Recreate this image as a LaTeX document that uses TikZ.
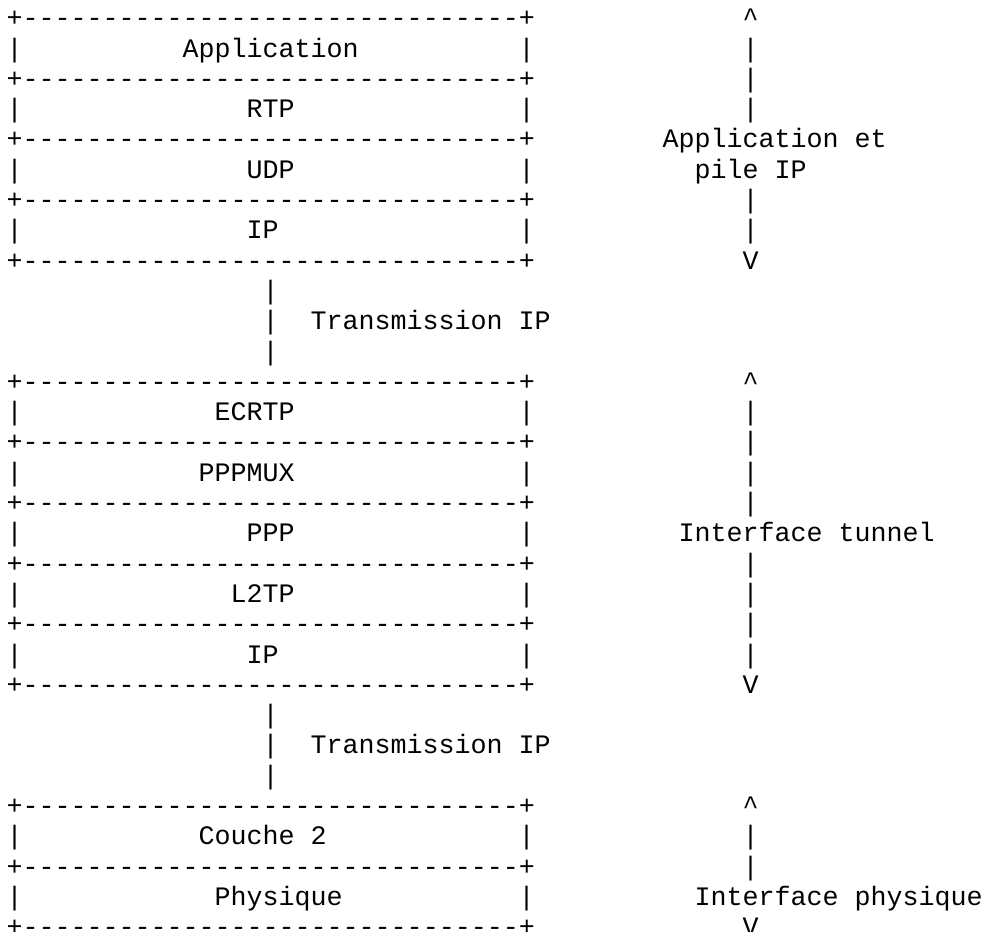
\documentclass[tikz,border=0pt]{standalone}
\usepackage{fontspec}
\setmonofont{Liberation Mono}
\newcommand{\asc}[4]{\node[txt] (#1) at ({6.7+16*#2},{26.7+30.3*#3}) {#4};}
\newcommand{\brd}{+-------------------------------+}
\begin{document}
\begin{tikzpicture}[x=1pt,y=-1pt,
  txt/.style={anchor=base west, inner sep=0pt, outer sep=0pt,
    font=\ttfamily\fontsize{26.67pt}{30.3pt}\selectfont, text=black}]
\useasboundingbox (0,0) rectangle (983,932);
% borders of the stacked layers
\foreach \i in {0,2,4,6,8,12,14,16,18,20,22,26,28,30} {\asc{b\i}{0}{\i}{\brd}}
% side bars of the layers
\foreach \i in {1,3,5,7,13,15,17,19,21,27,29} {\asc{l\i}{0}{\i}{|}\asc{r\i}{32}{\i}{|}}
% layer labels
\asc{app}{11}{1}{Application}
\asc{rtp}{15}{3}{RTP}
\asc{udp}{15}{5}{UDP}
\asc{ipa}{15}{7}{IP}
\asc{ecrtp}{13}{13}{ECRTP}
\asc{pppmux}{12}{15}{PPPMUX}
\asc{ppp}{15}{17}{PPP}
\asc{ltp}{14}{19}{L2TP}
\asc{ipb}{15}{21}{IP}
\asc{c2}{12}{27}{Couche 2}
\asc{phy}{13}{29}{Physique}
% transmission links
\foreach \i in {9,10,11,23,24,25} {\asc{t\i}{16}{\i}{|}}
\asc{tra}{19}{10}{Transmission IP}
\asc{trb}{19}{24}{Transmission IP}
% right-hand ranges
\foreach \i in {0,12,26} {\asc{u\i}{46}{\i}{\textasciicircum}}
\foreach \i in {8,22,30} {\asc{v\i}{46}{\i}{V}}
\foreach \i in {1,2,3,6,7,13,14,15,16,18,19,20,21,27,28} {\asc{s\i}{46}{\i}{|}}
\asc{ra}{41}{4}{Application et}
\asc{rb}{43}{5}{pile IP}
\asc{rc}{42}{17}{Interface tunnel}
\asc{rd}{43}{29}{Interface physique}
\end{tikzpicture}
\end{document}
